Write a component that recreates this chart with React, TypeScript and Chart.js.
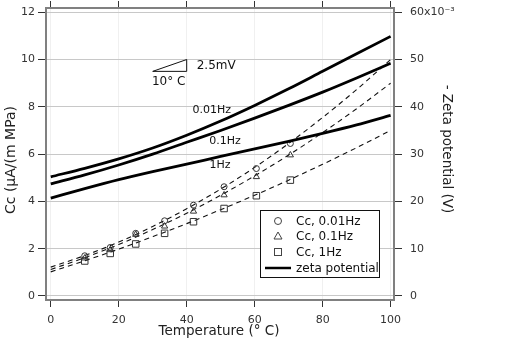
import React, { useEffect, useRef } from "react";
import { Chart, registerables } from "chart.js";
Chart.register(...registerables);

// ---- data ----
const temps = [0, 10, 20, 30, 40, 50, 60, 70, 80, 90, 100];
const zeta001 = [25.2, 27.0, 29.0, 31.3, 34.0, 37.0, 40.3, 43.8, 47.5, 51.2, 54.9];
const zeta01 = [23.7, 25.6, 27.7, 30.0, 32.5, 35.0, 37.6, 40.3, 43.1, 46.1, 49.2];
const zeta1 = [20.7, 22.7, 24.6, 26.3, 27.9, 29.5, 31.1, 32.7, 34.4, 36.2, 38.2];
const fit001 = [1.22, 1.71, 2.28, 2.94, 3.69, 4.52, 5.44, 6.45, 7.55, 8.73, 10.0];
const fit01 = [1.12, 1.62, 2.18, 2.81, 3.5, 4.26, 5.08, 5.96, 6.91, 7.92, 9.0];
const fit1 = [1.02, 1.49, 1.98, 2.51, 3.06, 3.65, 4.26, 4.9, 5.57, 6.27, 7.0];
const sampleTemps = [10, 17.5, 25, 33.5, 42, 51, 60.5, 70.5];
const cc001 = [1.7, 2.05, 2.65, 3.18, 3.84, 4.62, 5.39, 6.45];
const cc01 = [1.6, 1.95, 2.6, 2.95, 3.58, 4.27, 5.04, 5.96];
const cc1 = [1.48, 1.8, 2.2, 2.65, 3.14, 3.7, 4.24, 4.9];
const xTicks = [0, 20, 40, 60, 80, 100];
const yTicks = [0, 2, 4, 6, 8, 10, 12];
const zTicks = [0, 10, 20, 30, 40, 50, 60];
const curveLabels = ["0.01Hz", "0.1Hz", "1Hz"];
const curveLabelT = [47.4, 51.3, 49.8];
const curveLabelZ = [39.3, 32.8, 27.7];
const legendLabels = ["Cc, 0.01Hz", "Cc, 0.1Hz", "Cc, 1Hz", "zeta potential"];
const xTitle = "Temperature (\u00b0 C)";
const yTitle = "Cc (\u00b5A/(m MPa)";
const y2Title = "- Zeta potential (V)";
const slopeT = [30, 40];
const slopeZ = [47.5, 50];
const slopeLabels = ["2.5mV", "10\u00b0 C"];

const FONT = '"DejaVu Sans", sans-serif';

const pts = (xs: number[], ys: number[]) => xs.map((x, i) => ({ x, y: ys[i] }));

const overlay = {
  id: "overlay",
  afterDraw(chart: any) {
    const ctx = chart.ctx as CanvasRenderingContext2D;
    const xs = chart.scales.x;
    const zs = chart.scales.y2;
    ctx.save();
    ctx.fillStyle = "#222";
    ctx.textAlign = "center";
    ctx.textBaseline = "middle";
    ctx.font = `13.5px ${FONT}`;
    ctx.fillText(xTitle, 219, 331);
    ctx.save();
    ctx.translate(11, 160);
    ctx.rotate(-Math.PI / 2);
    ctx.font = `14px ${FONT}`;
    ctx.fillText(yTitle, 0, 0);
    ctx.restore();
    ctx.save();
    ctx.translate(446, 149);
    ctx.rotate(Math.PI / 2);
    ctx.fillText(y2Title, 0, 0);
    ctx.restore();

    // curve labels
    ctx.font = `11px ${FONT}`;
    ctx.fillStyle = "#111";
    curveLabels.forEach((t, i) => {
      ctx.fillText(t, xs.getPixelForValue(curveLabelT[i]), zs.getPixelForValue(curveLabelZ[i]));
    });

    // slope triangle
    const x0 = xs.getPixelForValue(slopeT[0]);
    const x1 = xs.getPixelForValue(slopeT[1]);
    const yb = zs.getPixelForValue(slopeZ[0]);
    const yt = zs.getPixelForValue(slopeZ[1]);
    ctx.strokeStyle = "#111";
    ctx.lineWidth = 1;
    ctx.beginPath();
    ctx.moveTo(x0, yb);
    ctx.lineTo(x1, yt);
    ctx.lineTo(x1, yb);
    ctx.closePath();
    ctx.stroke();
    ctx.font = `12px ${FONT}`;
    ctx.textAlign = "left";
    ctx.fillText(slopeLabels[0], x1 + 10, (yb + yt) / 2 + 0.5);
    ctx.textAlign = "center";
    ctx.fillText(slopeLabels[1], (x0 + x1) / 2 - 1, yb + 11);

    // legend
    const lx = 260.5, ly = 210.5, lw = 119, lh = 67;
    ctx.fillStyle = "#fff";
    ctx.fillRect(lx, ly, lw, lh);
    ctx.strokeStyle = "#111";
    ctx.lineWidth = 1;
    ctx.strokeRect(lx, ly, lw, lh);
    const rows = [221, 236, 252, 268];
    const sx = 278;
    ctx.strokeStyle = "#444";
    ctx.lineWidth = 1;
    ctx.beginPath();
    ctx.arc(sx, rows[0], 3.5, 0, Math.PI * 2);
    ctx.stroke();
    ctx.beginPath();
    ctx.moveTo(sx, rows[1] - 4);
    ctx.lineTo(sx + 4, rows[1] + 3);
    ctx.lineTo(sx - 4, rows[1] + 3);
    ctx.closePath();
    ctx.stroke();
    ctx.strokeRect(sx - 3.5, rows[2] - 3.5, 7, 7);
    ctx.strokeStyle = "#000";
    ctx.lineWidth = 2.5;
    ctx.beginPath();
    ctx.moveTo(265, rows[3]);
    ctx.lineTo(291, rows[3]);
    ctx.stroke();
    ctx.fillStyle = "#111";
    ctx.font = `12px ${FONT}`;
    ctx.textAlign = "left";
    legendLabels.forEach((t, i) => ctx.fillText(t, 296, rows[i] + 0.5));
    ctx.restore();
  },
};

const tickFont = { family: FONT, size: 11 };

const fitTo = (prop: "width" | "height", size: number) => (s: any) => {
  s[prop] = size;
  s.paddingTop = 0;
  s.paddingBottom = 0;
  s.paddingLeft = 0;
  s.paddingRight = 0;
};

export default function App() {
  const ref = useRef<HTMLCanvasElement | null>(null);
  useEffect(() => {
    if (!ref.current) return;
    const dashed = (data: number[], id: string) => ({
      label: id,
      data: pts(temps, data),
      yAxisID: "y",
      borderColor: "#111",
      borderWidth: 1.1,
      borderDash: [5, 4],
      pointRadius: 0,
      fill: false,
      cubicInterpolationMode: "monotone" as const,
    });
    const solid = (data: number[], id: string) => ({
      label: id,
      data: pts(temps, data),
      yAxisID: "y2",
      borderColor: "#000",
      borderWidth: 2.8,
      pointRadius: 0,
      fill: false,
      cubicInterpolationMode: "monotone" as const,
    });
    const scatter = (data: number[], id: string, style: string, r: number) => ({
      label: id,
      data: pts(sampleTemps, data),
      yAxisID: "y",
      showLine: false,
      pointStyle: style,
      pointRadius: r,
      pointBorderColor: "#333",
      pointBackgroundColor: "rgba(0,0,0,0)",
      pointBorderWidth: 1,
    });
    const setTicks = (vals: number[]) => (s: any) => {
      s.ticks = vals.map((v) => ({ value: v }));
    };
    const chart = new Chart(ref.current, {
      type: "line",
      data: {
        datasets: [
          solid(zeta001, "zeta 0.01Hz"),
          solid(zeta01, "zeta 0.1Hz"),
          solid(zeta1, "zeta 1Hz"),
          scatter(cc001, "Cc, 0.01Hz", "circle", 3),
          scatter(cc01, "Cc, 0.1Hz", "triangle", 3.6),
          scatter(cc1, "Cc, 1Hz", "rect", 4.6),
          dashed(fit001, "fit 0.01Hz"),
          dashed(fit01, "fit 0.1Hz"),
          dashed(fit1, "fit 1Hz"),
        ] as any,
      },
      options: {
        animation: false,
        responsive: false,
        maintainAspectRatio: false,
        devicePixelRatio: 1,
        layout: { padding: 0 },
        plugins: { legend: { display: false }, tooltip: { enabled: false }, title: { display: false } },
        scales: {
          x: {
            type: "linear",
            position: "bottom",
            min: -1.4,
            max: 101,
            afterBuildTicks: setTicks(xTicks),
            afterFit: fitTo("height", 40),
            ticks: { font: tickFont, color: "#333", padding: 7, maxRotation: 0 },
            grid: { color: "#f0f0f0", tickColor: "#333", tickLength: 7 },
            border: { display: true, color: "#808080", width: 2 },
          },
          xTop: {
            type: "linear",
            position: "top",
            min: -1.4,
            max: 101,
            afterBuildTicks: setTicks(xTicks),
            afterFit: fitTo("height", 8),
            ticks: { display: false },
            grid: { drawOnChartArea: false, tickColor: "#333", tickLength: 7 },
            border: { display: true, color: "#808080", width: 2 },
          },
          y: {
            type: "linear",
            position: "left",
            min: -0.17,
            max: 12.18,
            afterBuildTicks: setTicks(yTicks),
            afterFit: fitTo("width", 46),
            ticks: { font: tickFont, color: "#333", padding: 3 },
            grid: { color: "#c8c8c8", tickColor: "#333", tickLength: 8 },
            border: { display: true, color: "#808080", width: 2 },
          },
          y2: {
            type: "linear",
            position: "right",
            min: -0.85,
            max: 60.9,
            afterBuildTicks: setTicks(zTicks),
            afterFit: fitTo("width", 138),
            ticks: {
              font: tickFont,
              color: "#333",
              padding: 8,
              callback: (v: any) => (v === 60 ? "60x10\u207b\u00b3" : String(v)),
            },
            grid: { drawOnChartArea: false, tickColor: "#333", tickLength: 8 },
            border: { display: true, color: "#808080", width: 2 },
          },
        },
      } as any,
      plugins: [overlay],
    });
    return () => chart.destroy();
  }, []);
  return (
    <div style={{ position: "fixed", left: 0, top: 0, width: 532, height: 340, background: "#fff" }}>
      <canvas ref={ref} width={532} height={340} style={{ width: 532, height: 340 }} />
    </div>
  );
}
